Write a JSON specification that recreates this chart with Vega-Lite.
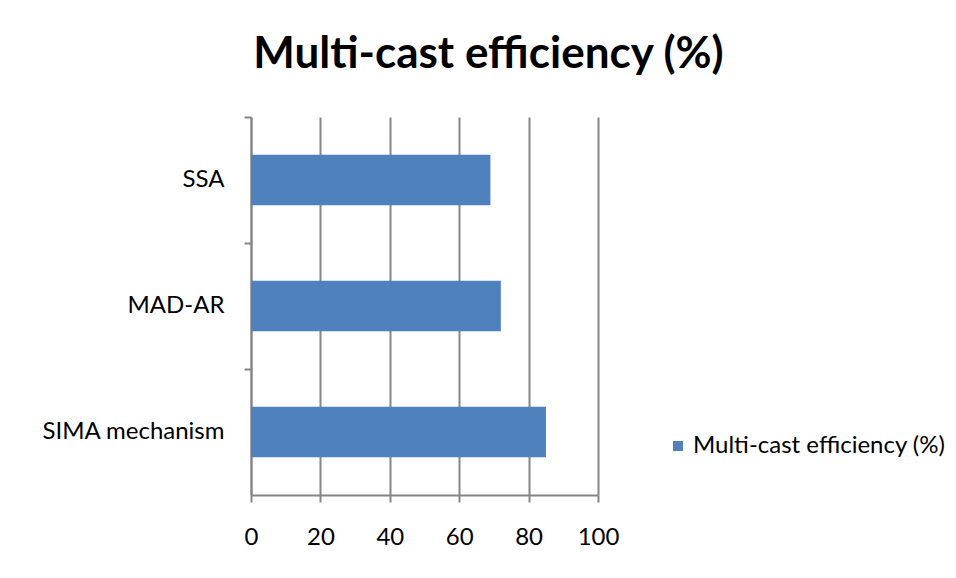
{
  "$schema": "https://vega.github.io/schema/vega-lite/v6.json",
  "autosize": "none",
  "width": 347,
  "height": 378,
  "padding": {"left": 251, "top": 117, "right": 358, "bottom": 83},
  "background": "white",
  "title": {
    "text": "Multi-cast efficiency (%)",
    "font": "Lato",
    "fontSize": 44,
    "fontWeight": "bold",
    "color": "black",
    "anchor": "middle",
    "frame": "group",
    "baseline": "alphabetic",
    "offset": 4,
    "dx": 64
  },
  "data": {
    "values": [
      {"method": "SSA", "efficiency": 69},
      {"method": "MAD-AR", "efficiency": 72},
      {"method": "SIMA mechanism", "efficiency": 85}
    ]
  },
  "mark": {"type": "bar", "height": {"band": 0.4}, "color": "#4F81BD"},
  "encoding": {
    "y": {
      "field": "method",
      "type": "nominal",
      "sort": ["SSA", "MAD-AR", "SIMA mechanism"],
      "scale": {"paddingInner": 0, "paddingOuter": 0},
      "axis": {
        "title": null,
        "bandPosition": 0,
        "grid": false,
        "domainColor": "#868686",
        "domainWidth": 2,
        "tickColor": "#868686",
        "tickWidth": 2,
        "tickSize": 7,
        "labelFont": "Lato",
        "labelFontSize": 24,
        "labelColor": "black",
        "labelPadding": 20,
        "labelLimit": 300
      }
    },
    "x": {
      "field": "efficiency",
      "type": "quantitative",
      "scale": {"domain": [0, 100], "nice": false},
      "axis": {
        "title": null,
        "values": [0, 20, 40, 60, 80, 100],
        "grid": true,
        "gridColor": "#868686",
        "gridWidth": 2,
        "gridOpacity": 1,
        "domainColor": "#868686",
        "domainWidth": 2,
        "tickColor": "#868686",
        "tickWidth": 2,
        "tickSize": 7,
        "labelFont": "Lato",
        "labelFontSize": 24,
        "labelColor": "black",
        "labelPadding": 23,
        "labelFlush": false
      }
    },
    "color": {
      "datum": "Multi-cast efficiency (%)",
      "scale": {"range": ["#4F81BD"]},
      "legend": {
        "title": null,
        "orient": "none",
        "legendX": 415,
        "legendY": 317,
        "symbolType": "square",
        "symbolSize": 100,
        "labelFont": "Lato",
        "labelFontSize": 24,
        "labelColor": "black",
        "labelOffset": 3,
        "labelLimit": 400
      }
    }
  },
  "config": {
    "view": {"stroke": null}
  }
}
